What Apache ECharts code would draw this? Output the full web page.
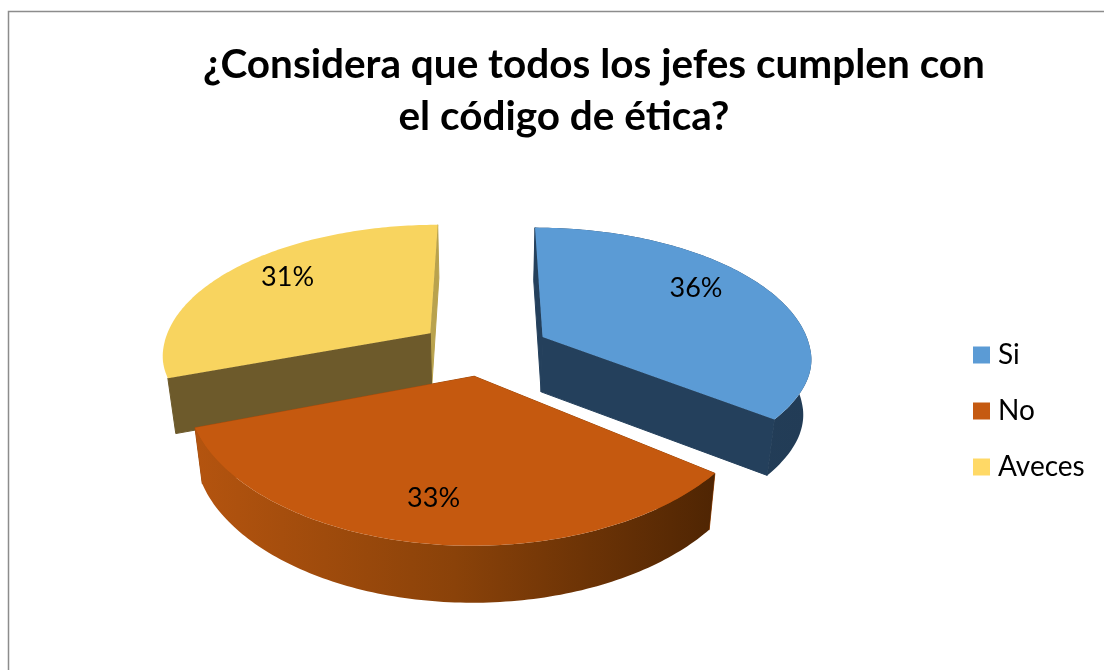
<!DOCTYPE html>
<html>
<head>
<meta charset="utf-8">
<style>html,body{margin:0;padding:0;background:#fff}#c{width:1104px;height:670px}</style>
<script src="https://cdn.jsdelivr.net/npm/echarts@6/dist/echarts.min.js"></script>
</head>
<body>
<div id="c"></div>
<script>
// Survey answers
const categories = ['Si', 'No', 'Aveces'];
const values = [36, 33, 31];
const titleLines = ['¿Considera que todos los jefes cumplen con', 'el código de ética?'];

// Slice colours
const topColors = ['#5b9bd5', '#c5590f', '#f8d45f'];
const legendColors = ['#5b9bd5', '#c55a11', '#ffd966'];
const edgeColors = ['#24405c', '#a04c0e', '#6d5a2b'];
const backEdgeColors = ['#24405c', '#a04c0e', '#b9a24d'];
const rimStops = [
  ['#24405c', '#223c56'],
  ['#b4540f', '#8a4209', '#4f2503'],
  ['#8a7436', '#6d5a2b']
];
// Outer wall is drawn only on slices that show it from this viewpoint
const rimVisible = [true, true, false];
// Per-slice corrections on the pie plane, and label anchors
const sliceNudgeX = [0.015, -0.008, -0.03];
const sliceNudgeY = [0, 0.012, 0];
const sliceWiden = [1, 1.013, 1];
const labelSpots = [[0.845, -0.5], [-0.165, 1.0], [-0.81, -0.6]];

// Tilted pie geometry
const CX = 486, CY = 349, RX = 268, RY = 130, PERSP = 0.1566, DEPTH = 55, EXPLODE = 0.22, SAG = 7;
const total = values.reduce((a, b) => a + b, 0);

// Project a point of the pie plane to the screen; low = true gives the bottom face
function project(u, v, low) {
  const p = 1 / (1 - PERSP * v);
  const shrink = low ? 0.975 : 1;
  const sag = v > 0 && v < 1.3 ? SAG * Math.sin(Math.PI * v / 1.3) : 0;
  return [
    CX + RX * u * p * shrink,
    CY + RY * v * p - sag + (low ? DEPTH * (1 + 0.03 * v) : 0)
  ];
}

function sliceAngles(index) {
  let start = 0;
  for (let i = 0; i < index; i++) start += values[i] / total * 360;
  return [start, start + values[index] / total * 360];
}

function renderSlice(index) {
  const [a0, a1] = sliceAngles(index);
  const mid = (a0 + a1) / 2 * Math.PI / 180;
  const ox = Math.sin(mid) * EXPLODE + sliceNudgeX[index];
  const oy = -Math.cos(mid) * EXPLODE + sliceNudgeY[index];
  const rim = low => {
    const pts = [];
    for (let a = a0; a <= a1 + 1e-6; a += (a1 - a0) / 120) {
      const r = a * Math.PI / 180;
      pts.push(project(ox + Math.sin(r) * sliceWiden[index], oy - Math.cos(r), low));
    }
    return pts;
  };
  const rimTop = rim(false), rimLow = rim(true);
  const apexTop = project(ox, oy, false), apexLow = project(ox, oy, true);
  const last = rimTop.length - 1;
  const flat = (points, fill) => ({ type: 'polygon', shape: { points }, style: { fill } });
  // Side walls carry a hairline of their own colour so no seam shows next to the rim
  const wall = (points, fill) => ({
    type: 'polygon', shape: { points }, style: { fill, stroke: fill, lineWidth: 1 }
  });
  const stops = rimStops[index];
  const rimFill = {
    type: 'linear', x: 0, y: 0, x2: 1, y2: 0,
    colorStops: stops.map((color, i) => ({ offset: i / (stops.length - 1), color }))
  };
  const spot = project(labelSpots[index][0], labelSpots[index][1], false);
  const parts = [];
  // The edge at twelve o'clock closes the first slice at a0 and the last one at a1
  const backEnd = index === 0 ? 0 : last, sideEnd = index === 0 ? last : 0;
  parts.push(wall([apexTop, rimTop[backEnd], rimLow[backEnd], apexLow], backEdgeColors[index]));
  parts.push(wall([apexTop, rimTop[sideEnd], rimLow[sideEnd], apexLow], edgeColors[index]));
  if (rimVisible[index]) parts.push(flat(rimTop.concat(rimLow.slice().reverse()), rimFill));
  parts.push(flat([apexTop].concat(rimTop), topColors[index]));
  parts.push({
    type: 'text',
    style: {
      x: spot[0], y: spot[1],
      text: Math.round(values[index] / total * 100) + '%',
      fill: '#000', font: '27px Lato', align: 'center', verticalAlign: 'middle'
    }
  });
  return { type: 'group', children: parts };
}

const chart = echarts.init(document.getElementById('c'), null, { renderer: 'canvas' });
chart.setOption({
  animation: false,
  backgroundColor: '#ffffff',
  title: [
    { text: titleLines[0], left: 589, top: 39, textAlign: 'center',
      textStyle: { fontFamily: 'Lato', fontWeight: 'bold', fontSize: 40.5, color: '#000' } },
    { text: titleLines[1], left: 559, top: 91, textAlign: 'center',
      textStyle: { fontFamily: 'Lato', fontWeight: 'bold', fontSize: 40.5, color: '#000' } }
  ],
  legend: {
    orient: 'vertical', left: 968, top: 336,
    icon: 'rect', itemWidth: 17, itemHeight: 17, itemGap: 28,
    data: categories,
    textStyle: { fontFamily: 'Lato', fontSize: 28, color: '#000', padding: [0, 0, 0, 3] }
  },
  graphic: [{
    type: 'polyline',
    silent: true,
    shape: { points: [[8.5, 670], [8.5, 11.5], [1104, 11.5]] },
    style: { stroke: '#8c8c8c', lineWidth: 1.5, fill: null }
  }],
  series: categories.map((name, i) => ({
    type: 'custom',
    name,
    coordinateSystem: 'none',
    silent: true,
    z: name === 'No' ? 3 : 2,
    itemStyle: { color: legendColors[i] },
    data: [[values[i]]],
    renderItem: () => renderSlice(i)
  }))
});
</script>
</body>
</html>
